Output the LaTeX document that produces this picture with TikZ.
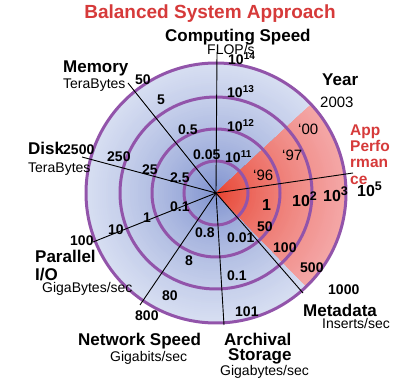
\documentclass[tikz,border=0pt]{standalone}
\usepackage{fontspec}
\setmainfont{Liberation Sans}
\definecolor{bluein}{RGB}{120,140,204}
\definecolor{blueout}{RGB}{216,223,242}
\definecolor{redin}{RGB}{230,60,40}
\definecolor{redout}{RGB}{244,168,168}
\definecolor{ringc}{RGB}{146,84,170}
\definecolor{titlered}{RGB}{214,58,58}
\newcommand\pw[2]{#1\raisebox{0.42em}{\fontsize{10}{10}\selectfont #2}}
\newcommand\pwb[2]{#1\raisebox{0.42em}{\fontsize{12.5}{12.5}\selectfont #2}}
\tikzset{
  lab/.style={inner sep=0pt, anchor=base west, font=\fontsize{17}{17}\selectfont\bfseries},
  unitlab/.style={inner sep=0pt, anchor=base west, font=\fontsize{14}{14}\selectfont},
  tick/.style={inner sep=0pt, anchor=base west, font=\fontsize{14}{14}\selectfont\bfseries},
  bigtick/.style={inner sep=0pt, anchor=base west, font=\fontsize{16}{16}\selectfont\bfseries},
  yr/.style={inner sep=0pt, anchor=base west, font=\fontsize{15}{15}\selectfont},
  applab/.style={inner sep=0pt, anchor=base west, text=titlered, font=\fontsize{15.5}{15.5}\selectfont\bfseries},
  ring/.style={draw=ringc, line width=3pt},
  axisline/.style={draw=black, line width=0.9pt},
}
\begin{document}
\begin{tikzpicture}[x=1pt,y=1pt]
\useasboundingbox (0,0) rectangle (402,386);
\coordinate (C) at (216,193);
% blue disc (radial gradient)
\foreach \i in {65,64,...,1}{
  \pgfmathtruncatemacro\p{100*(\i/65)^0.7}
  \fill[blueout!\p!bluein] (C) circle (2*\i);
}
% red sector (radial gradient)
\begin{scope}
  \clip (C) -- ++(-46:130) arc[start angle=-46, end angle=43, radius=130] -- cycle;
  \foreach \i in {65,64,...,1}{
    \pgfmathtruncatemacro\p{100*(\i/65)^0.7}
    \fill[redout!\p!redin] (C) circle (2*\i);
  }
\end{scope}
% rings
\foreach \r in {32,64,96,130} \draw[ring] (C) circle (\r);
% axis ends
\coordinate (compE) at (217,334);
\coordinate (memE) at (128,303);
\coordinate (diskE) at (82,229);
\coordinate (pioE) at (93,144);
\coordinate (netE) at (140,81);
\coordinate (archE) at (224,61);
\coordinate (metaE) at (303,93);
\coordinate (yearE) at (353,213);
\foreach \e in {compE,memE,diskE,pioE,netE,archE,metaE,yearE} \draw[axisline] (C) -- (\e);
% title
\node[inner sep=0pt, anchor=base, text=titlered, font=\fontsize{19}{19}\selectfont\bfseries] (title) at (210,367) {Balanced System Approach};
% computing speed
\node[lab] (comp) at (165,344) {Computing Speed};
\node[unitlab] (compu) at (207,331) {FLOP/s};
\node[tick] (c14) at (228,321) {\pw{10}{14}};
\node[tick] (c13) at (227,288) {\pw{10}{13}};
\node[tick] (c12) at (227,254) {\pw{10}{12}};
\node[tick] (c11) at (225,223) {\pw{10}{11}};
% memory
\node[lab] (mem) at (63,313) {Memory};
\node[unitlab] (memu) at (63,297) {TeraBytes};
\node[tick] (m50) at (135,301) {50};
\node[tick] (m5) at (157,281) {5};
\node[tick] (m05) at (178,251) {0.5};
\node[tick] (m005) at (193,226) {0.05};
% disk
\node[lab] (disk) at (28,231) {Disk};
\node[unitlab] (disku) at (28,213) {TeraBytes};
\node[tick] (d2500) at (63,231) {2500};
\node[tick] (d250) at (107,224) {250};
\node[tick] (d25) at (142,211) {25};
\node[tick] (d25b) at (170,203) {2.5};
% parallel I/O
\node[lab] (pio1) at (35,123) {Parallel};
\node[lab] (pio2) at (35,105) {I/O};
\node[unitlab] (piou) at (42,93) {GigaBytes/sec};
\node[tick] (p01) at (170,174) {0.1};
\node[tick] (p1) at (143,163) {1};
\node[tick] (p10) at (108,151) {10};
\node[tick] (p100) at (70,140) {100};
% network
\node[lab] (net) at (78,41) {Network Speed};
\node[unitlab] (netu) at (110,25) {Gigabits/sec};
\node[tick] (n08) at (195,148) {0.8};
\node[tick] (n8) at (185,120) {8};
\node[tick] (n80) at (162,85) {80};
\node[tick] (n800) at (135,65) {800};
% archival
\node[lab] (arch1) at (224,41) {Archival};
\node[lab] (arch2) at (228,26) {Storage};
\node[unitlab] (archu) at (220,11) {Gigabytes/sec};
\node[tick] (a001) at (227,143) {0.01};
\node[tick] (a01) at (227,105) {0.1};
\node[tick] (a101) at (235,70) {101};
% metadata
\node[lab] (meta) at (303,69) {Metadata};
\node[unitlab] (metau) at (322,57) {Inserts/sec};
\node[tick] (md50) at (257,154) {50};
\node[tick] (md100) at (273,133) {100};
\node[tick] (md500) at (300,113) {500};
\node[tick] (md1000) at (328,91) {1000};
% year
\node[lab] (year) at (322,300) {Year};
\node[yr] (y2003) at (320,278) {2003};
\node[yr] (y96) at (253,205) {‘96};
\node[yr] (y97) at (282,225) {‘97};
\node[yr] (y00) at (298,251) {‘00};
\node[bigtick] (yp1) at (262,175) {1};
\node[bigtick] (yp2) at (292,179) {\pwb{10}{2}};
\node[bigtick] (yp3) at (323,184) {\pwb{10}{3}};
\node[bigtick] (yp5) at (357,189) {\pwb{10}{5}};
% app performance
\node[applab] (app1) at (350,250) {App};
\node[applab] (app2) at (350,234) {Perfo};
\node[applab] (app3) at (350,218) {rman};
\node[applab] (app4) at (350,201) {ce};
\end{tikzpicture}
\end{document}
